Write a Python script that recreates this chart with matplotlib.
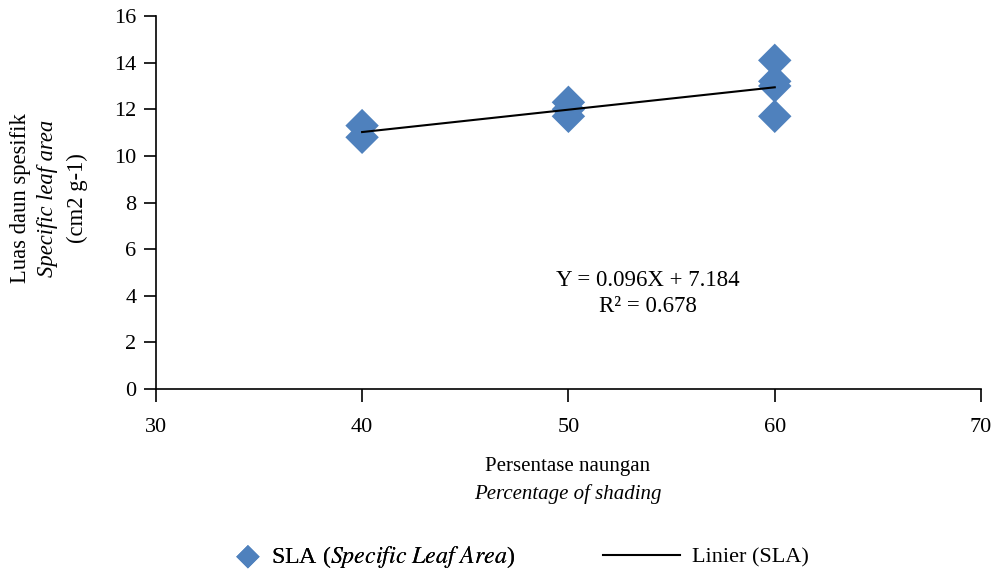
import numpy as np
import matplotlib
matplotlib.use('Agg')
import matplotlib.pyplot as plt

plt.rcParams['font.family'] = 'Liberation Serif'
plt.rcParams['mathtext.fontset'] = 'stix'

# Data
shading = [40, 40, 50, 50, 50, 60, 60, 60, 60]
sla = [11.3, 10.8, 12.3, 12.0, 11.7, 14.1, 13.2, 13.0, 11.7]

slope = 0.096
intercept = 7.184
r2 = 0.678

fig = plt.figure(figsize=(9.92, 5.73), dpi=100)
ax = fig.add_axes([0.157, 0.321, 0.832, 0.651])

pts = ax.scatter(shading, sla, marker='D', s=290, color='#4F81BD', edgecolors='none',
                 zorder=2)

xfit = np.array([min(shading), max(shading)])
fit_line, = ax.plot(xfit, slope * xfit + intercept, color='black', linewidth=1.5,
                    zorder=3)

ax.set_xlim(30, 70)
ax.set_ylim(0, 16)
ax.set_xticks([30, 40, 50, 60, 70])
ax.set_yticks(range(0, 17, 2))
ax.spines['top'].set_visible(False)
ax.spines['right'].set_visible(False)
ax.tick_params(axis='both', labelsize=16, direction='out', length=9, width=1.2)
ax.tick_params(axis='x', pad=12)
ax.tick_params(axis='y', pad=5)
ax.spines['left'].set_linewidth(1.2)
ax.spines['bottom'].set_linewidth(1.2)

ax.text(0.596, 0.292, 'Y = 0.096X + 7.184', transform=ax.transAxes, ha='center',
        va='center', fontsize=16.5)
ax.text(0.596, 0.2225, 'R² = %.3f' % r2, transform=ax.transAxes, ha='center',
        va='center', fontsize=16.5)

# axis titles
fig.text(568 / 992, 1 - 467 / 573, 'Persentase naungan', ha='center', va='center', fontsize=15)
fig.text(568 / 992, 1 - 494 / 573, 'Percentage of shading', ha='center', va='center',
         fontsize=15, style='italic')
fig.text(21 / 992, 1 - 198 / 573, 'Luas daun spesifik', rotation=90, ha='center',
         va='center', fontsize=16.3)
fig.text(48 / 992, 1 - 198 / 573, 'Specific leaf area', rotation=90, ha='center',
         va='center', fontsize=16.3, style='italic')
fig.text(77 / 992, 1 - 198 / 573, '(cm2 g-1)', rotation=90, ha='center',
         va='center', fontsize=16.3)

# legend: two pieces so the marker and line handles get their own widths
leg1 = fig.legend([pts], [r'SLA ($\mathit{Specific\ Leaf\ Area}$)'], loc='center left',
                  bbox_to_anchor=(233 / 992, 1 - 557 / 573), frameon=False, fontsize=17.2,
                  handlelength=1.25, handletextpad=0.35, borderpad=0, borderaxespad=0,
                  scatterpoints=1, markerscale=0.7)
fig.add_artist(leg1)
fig.legend([fit_line], ['Linier (SLA)'], loc='center left',
           bbox_to_anchor=(603 / 992, 1 - 557 / 573), frameon=False, fontsize=16,
           handlelength=3.47, handletextpad=0.54, borderpad=0, borderaxespad=0)

fig.savefig('out.png', dpi=100)
